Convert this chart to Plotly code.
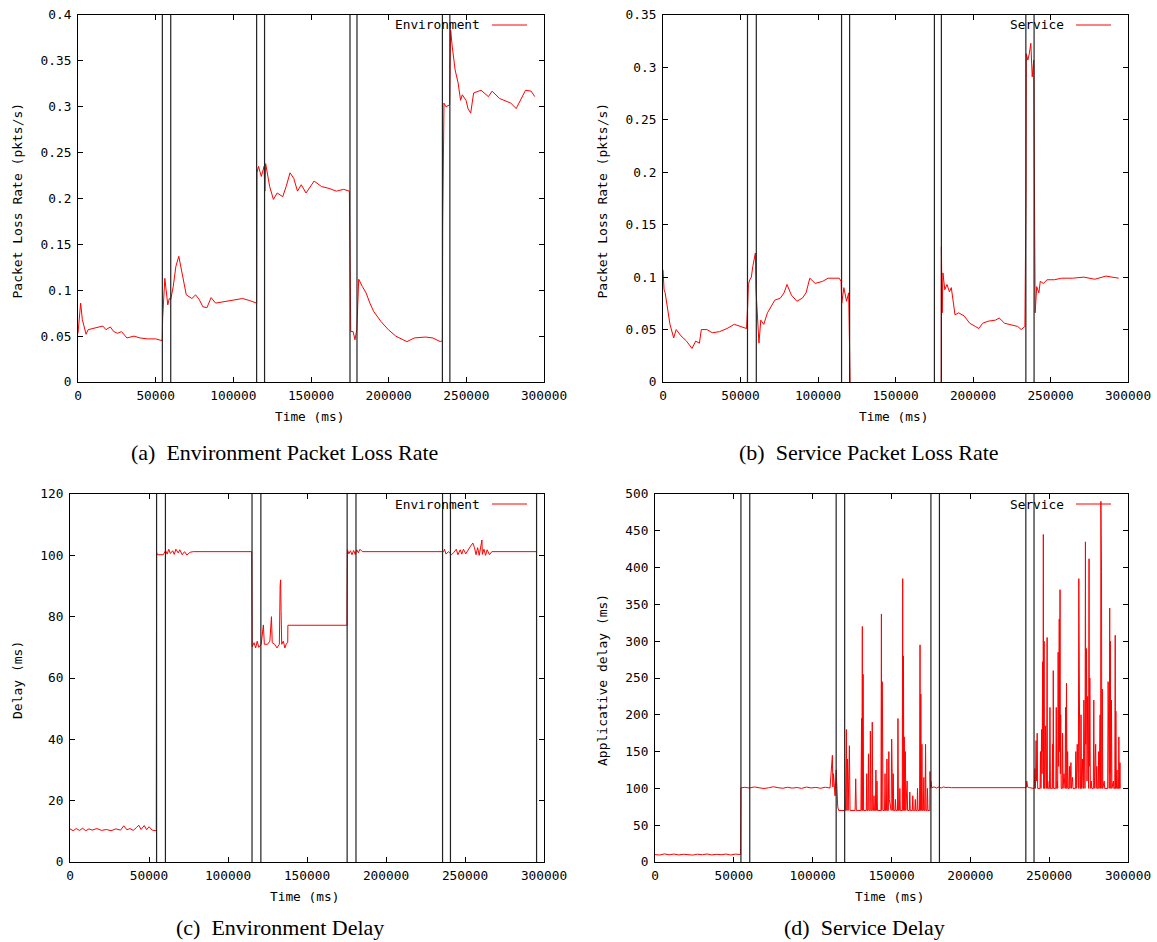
import plotly.graph_objects as go

W, H = 1157, 942

# (a) environment packet loss rate: (time ms, pkts/s)
env_loss = [
    (0, 0.053), (1700, 0.086), (2800, 0.068), (5200, 0.052), (6500, 0.057), (11200, 0.059),
    (16000, 0.061), (18000, 0.057), (20800, 0.060), (23000, 0.055), (25500, 0.053), (28000, 0.055),
    (31500, 0.048), (36000, 0.050), (40000, 0.048), (44600, 0.047), (50000, 0.047), (54200, 0.045),
    (54500, 0.070), (55900, 0.113), (57000, 0.095), (57800, 0.084), (58800, 0.091), (59700, 0.090),
    (61300, 0.104), (63000, 0.126), (64900, 0.137), (67300, 0.115), (69700, 0.095), (73300, 0.091),
    (75700, 0.095), (78000, 0.090), (80400, 0.082), (83000, 0.081), (85700, 0.092), (88600, 0.086),
    (94800, 0.088), (98000, 0.089), (101900, 0.090), (106000, 0.091), (110000, 0.089), (115000, 0.086),
    (115200, 0.228), (116200, 0.235), (118000, 0.224), (119800, 0.235), (120300, 0.208), (120800, 0.238),
    (123400, 0.213), (125800, 0.199), (128200, 0.206), (131800, 0.202), (134000, 0.213), (136500, 0.228),
    (138900, 0.222), (141300, 0.208), (143700, 0.215), (146800, 0.206), (152000, 0.219), (156800, 0.213),
    (161600, 0.211), (166400, 0.208), (171000, 0.210), (174700, 0.208),
    (175100, 0.137), (175600, 0.055), (177100, 0.055), (178300, 0.046), (179500, 0.057), (180000, 0.086),
    (180700, 0.112), (183100, 0.104), (185500, 0.097), (187900, 0.086), (190300, 0.077), (195000, 0.066),
    (199800, 0.057), (204600, 0.050), (209300, 0.046), (211700, 0.044), (216500, 0.048), (223700, 0.049),
    (228500, 0.048), (233200, 0.044), (234600, 0.045),
    (234800, 0.170), (235600, 0.304), (236800, 0.300), (239200, 0.302), (239900, 0.384), (240900, 0.366),
    (242800, 0.340), (244700, 0.326), (246300, 0.307), (247400, 0.313), (249800, 0.307), (251100, 0.298),
    (252800, 0.293), (254700, 0.315), (259500, 0.318), (264200, 0.311), (266600, 0.317), (271400, 0.309),
    (278600, 0.304), (282100, 0.298), (285700, 0.309), (288100, 0.318), (291700, 0.317), (294100, 0.311),
]

# (b) service packet loss rate (no samples between the two drops to zero)
svc_loss = [
    (0, 0.107), (700, 0.088), (1400, 0.085), (2800, 0.069), (4500, 0.055), (6900, 0.042),
    (8500, 0.050), (11600, 0.044), (15200, 0.039), (18700, 0.032), (21100, 0.039), (23500, 0.037),
    (24700, 0.050), (28300, 0.050), (31800, 0.047), (36500, 0.048), (41300, 0.051), (46000, 0.055),
    (50800, 0.053), (53900, 0.051),
    (54600, 0.072), (55100, 0.093), (56000, 0.0975), (57000, 0.100), (57900, 0.110), (59600, 0.123),
    (60000, 0.088), (60700, 0.063), (61900, 0.037), (63100, 0.059), (65000, 0.055), (67400, 0.066),
    (69800, 0.072), (72100, 0.078), (75700, 0.080), (78100, 0.085), (80000, 0.093), (82800, 0.083),
    (86400, 0.077), (89900, 0.080), (92300, 0.085), (94700, 0.099), (98200, 0.094), (103000, 0.096),
    (106500, 0.099), (113700, 0.099), (114900, 0.096),
    (115300, 0.075), (116700, 0.090), (118400, 0.077), (119800, 0.085), (120300, 0.002), (120500, 0.039),
    (120700, 0.0), (150000, None), (179500, 0.0),
    (179600, 0.129), (180100, 0.066), (180600, 0.104), (181800, 0.088), (183200, 0.093), (184800, 0.086),
    (186000, 0.090), (188400, 0.064), (190700, 0.066), (194300, 0.063), (197900, 0.056), (201500, 0.053),
    (203800, 0.051), (206200, 0.056), (209800, 0.058), (214500, 0.059), (216900, 0.061), (220400, 0.056),
    (224000, 0.055), (228800, 0.053), (231100, 0.050), (233500, 0.053),
    (234200, 0.183), (234400, 0.313), (235400, 0.307), (236300, 0.313), (237300, 0.323), (238200, 0.291),
    (239200, 0.307), (239600, 0.196), (240100, 0.066), (241100, 0.091), (242500, 0.085), (243400, 0.096),
    (245400, 0.094), (247800, 0.0975), (252500, 0.0975), (257200, 0.099), (264300, 0.099), (271500, 0.100),
    (278600, 0.098), (285700, 0.101), (294000, 0.099),
]

# (c) environment delay (ms)
env_delay = [
    (0, 10.8), (2000, 10.2), (4000, 10.9), (6000, 10.3), (8000, 11.0), (10000, 10.2), (12000, 10.8),
    (14000, 10.4), (17000, 10.9), (20000, 10.3), (23000, 10.6), (26000, 10.2), (29000, 10.8), (32000, 10.4),
    (34000, 11.8), (36000, 10.5), (38000, 10.9), (40000, 10.3), (42000, 11.2), (43500, 12.0), (45000, 10.6),
    (47000, 11.9), (48500, 10.5), (50000, 11.5), (52000, 10.4), (54600, 10.2),
    (54700, 55.5), (54800, 101.0), (55300, 100.2), (59000, 100.2), (60500, 101.5), (61500, 100.4),
    (62500, 102.0), (63500, 100.6), (65000, 101.5), (66000, 100.3), (67000, 102.0), (68500, 100.8),
    (69500, 101.8), (71000, 100.2), (72500, 101.2), (74000, 100.1), (76000, 101.0), (78000, 101.2),
    (115000, 101.2),
    (115100, 85.5), (115300, 70.2), (116500, 71.5), (117500, 69.8), (118500, 72.0), (119500, 70.0),
    (121000, 71.0), (122400, 77.3), (123000, 71.0), (125000, 71.0), (126500, 72.0), (127500, 80.0),
    (128000, 71.5), (129500, 71.0), (131000, 69.8), (132500, 71.0), (133000, 90.0), (133300, 92.0),
    (133600, 81.7), (134000, 71.0), (135000, 72.0), (136000, 69.8), (137000, 71.3), (137800, 71.5),
    (137900, 77.2), (175300, 77.2),
    (175400, 89.3), (175600, 101.8), (176500, 100.5), (177500, 101.5), (178500, 100.2), (179500, 101.6),
    (180500, 100.3), (181500, 101.8), (182500, 100.8), (183500, 102.0), (185000, 101.2), (236500, 101.2),
    (237000, 102.0), (238000, 100.4), (239500, 101.2), (241500, 100.2), (243000, 101.0), (244500, 102.0),
    (245500, 100.2), (247000, 101.8), (248000, 100.4), (249000, 102.0), (250500, 100.5), (252000, 102.0),
    (253500, 103.0), (255000, 104.0), (256000, 102.5), (257000, 100.2), (258000, 102.5), (259000, 100.0),
    (260200, 103.0), (260700, 105.0), (261000, 100.3), (262000, 102.0), (263000, 100.0), (264000, 101.8),
    (265500, 100.2), (267000, 101.2), (295300, 101.2),
]

# (d) service (applicative) delay (ms)
svc_delay = [
    (0, 10.0), (3000, 9.5), (6000, 11.0), (9000, 9.8), (12000, 10.8), (15000, 9.6), (18000, 10.5),
    (21000, 10.0), (24000, 9.4), (27000, 10.6), (30000, 9.8), (33000, 10.9), (36000, 9.6), (39000, 10.4),
    (42000, 9.9), (45000, 10.8), (48000, 9.5), (51000, 10.7), (54300, 10.2),
    (54400, 57), (54500, 100.7), (57000, 101.5), (60000, 100.5), (63000, 102), (66000, 101), (69000, 99.8),
    (72000, 100.8), (75000, 102.2), (78000, 101), (81000, 100.2), (84000, 101.6), (87000, 100.4),
    (90000, 101.2), (93000, 100), (96000, 101.8), (99000, 100.6), (102000, 101.4), (105000, 100.2),
    (108000, 101.6), (111000, 100.5), (112500, 145), (112800, 102), (113200, 120), (113600, 100),
    (114200, 90), (114900, 125), (115400, 100), (115900, 75), (116500, 70), (116800, 70),
    (120800, 70), (121400, 180), (121700, 70), (122100, 140), (122500, 70), (123300, 158), (123700, 70),
    (126900, 70), (127300, 113), (127700, 70), (130600, 70), (131000, 195), (131200, 70), (131500, 320),
    (131700, 70), (132000, 255), (132300, 70), (134000, 70), (134300, 120), (134600, 70), (135100, 70),
    (135400, 147), (135700, 70), (136300, 70), (136600, 178), (136900, 70), (137500, 70), (137800, 190),
    (138100, 70), (138600, 70), (138900, 90), (139200, 70), (139800, 70), (140100, 125), (140400, 70),
    (140800, 110), (141100, 70), (143300, 70), (143600, 337), (143800, 70), (144100, 245), (144300, 200),
    (144600, 70), (145600, 70), (145900, 120), (146200, 70), (146800, 70), (147100, 140), (147400, 70),
    (148000, 70), (148300, 150), (148600, 85), (149800, 70), (150100, 167), (150400, 70), (150800, 70),
    (151100, 120), (151400, 70), (152200, 70), (152500, 85), (152800, 70), (153800, 70), (154100, 195),
    (154400, 70), (155000, 70), (155300, 100), (155600, 70), (156800, 70), (157100, 385), (157300, 70),
    (157600, 280), (157800, 70), (158100, 170), (158400, 70), (158800, 150), (159100, 70), (159900, 110),
    (160200, 70), (161300, 70), (161600, 95), (161900, 70), (163200, 70), (163500, 90), (163800, 70),
    (164800, 70), (165100, 85), (165400, 70), (166200, 70), (166500, 100), (166800, 70), (167800, 70),
    (168100, 295), (168300, 70), (168600, 228), (168900, 70), (169300, 160), (169600, 70), (170200, 70),
    (170500, 115), (170800, 70), (171300, 70), (171600, 160), (171900, 70), (172500, 70), (172800, 100),
    (173100, 70), (174300, 70),
    (174400, 123), (174700, 100), (175000, 110), (175500, 101), (177000, 102), (178500, 100.5),
    (180000, 101.8), (181500, 100.6), (183000, 102), (184500, 101), (186000, 101.5), (188000, 101),
    (235500, 101), (235800, 110), (236300, 102), (237400, 101),
    (240500, 100), (241000, 127), (241300, 100), (241700, 165), (242000, 110), (242400, 175), (242700, 100),
    (244200, 100), (244500, 150), (244800, 100), (245200, 180), (245500, 120), (245900, 272), (246100, 150),
    (246300, 445), (246500, 100), (246800, 300), (247000, 100), (247400, 100), (247700, 185), (248000, 100),
    (248400, 100), (248700, 305), (248900, 100), (249100, 110), (249400, 100), (250200, 100), (250500, 210),
    (250800, 100), (251900, 100), (252200, 160), (252400, 100), (252600, 260), (252900, 100), (254200, 100),
    (254500, 210), (254800, 100), (255200, 110), (255400, 100), (255700, 285), (256000, 130), (256400, 330),
    (256600, 150), (256900, 370), (257100, 120), (257300, 200), (257600, 100), (258200, 100), (258500, 175),
    (258800, 100), (259400, 120), (259700, 100), (260100, 100), (260400, 210), (260700, 100), (261000, 243),
    (261300, 100), (261700, 150), (262000, 100), (262600, 100), (262900, 130), (263200, 100), (263800, 135),
    (264100, 100), (264800, 115), (265100, 100), (266600, 100), (266900, 150), (267200, 100), (267800, 160),
    (268100, 100), (268500, 100), (268800, 385), (269000, 150), (269200, 310), (269500, 100), (269900, 100),
    (270200, 200), (270500, 100), (271100, 140), (271400, 100), (271700, 100), (272000, 220), (272300, 100),
    (272700, 100), (273000, 435), (273200, 160), (273700, 290), (274000, 110), (274400, 225), (274700, 100),
    (275000, 100), (275300, 412), (275500, 130), (275800, 250), (276100, 100), (276700, 110), (277000, 100),
    (278000, 100), (278300, 220), (278600, 100), (279500, 160), (279800, 100), (280200, 130), (280500, 100),
    (281100, 100), (281400, 150), (281700, 100), (282300, 200), (282600, 100), (282800, 490), (283000, 100),
    (283200, 395), (283400, 100), (283700, 235), (284000, 100), (284900, 110), (285200, 100), (287100, 100),
    (287400, 245), (287700, 100), (288100, 100), (288400, 345), (288600, 120), (288800, 300), (289100, 100),
    (289500, 220), (289800, 100), (290700, 110), (291000, 100), (291600, 100), (291900, 308), (292100, 100),
    (292300, 205), (292600, 100), (293000, 125), (293300, 100), (294000, 100), (294200, 170), (294500, 100),
    (294900, 135), (295100, 100),
]

# handover markers (vertical lines) per panel
marks_a = [54300, 59700, 115000, 120100, 175100, 179600, 234600, 239400]
marks_b = [54500, 60200, 115200, 120400, 175100, 179600, 234100, 239400]
marks_c = [54800, 60400, 115200, 120800, 175400, 181000, 235800, 240800, 295300]
marks_d = [54500, 60100, 114900, 120300, 175000, 180400, 235200, 240400]


def px(x):
    return x / W


def py(y):
    return 1 - y / H


# panel boxes in pixels: left, right, top, bottom; ytx = centre of y title
panels = [
    dict(data=env_loss, marks=marks_a, box=(78, 544, 15, 382), ymax=0.4, dy=0.05, ytx=17,
         ytitle="Packet Loss Rate (pkts/s)", legend="Environment",
         caption="(a)  Environment Packet Loss Rate"),
    dict(data=svc_loss, marks=marks_b, box=(663, 1128, 15, 382), ymax=0.35, dy=0.05, ytx=602,
         ytitle="Packet Loss Rate (pkts/s)", legend="Service",
         caption="(b)  Service Packet Loss Rate"),
    dict(data=env_delay, marks=marks_c, box=(70, 544, 494, 862), ymax=120, dy=20, ytx=17,
         ytitle="Delay (ms)", legend="Environment",
         caption="(c)  Environment Delay"),
    dict(data=svc_delay, marks=marks_d, box=(655, 1128, 494, 862), ymax=500, dy=50, ytx=602,
         ytitle="Applicative delay (ms)", legend="Service",
         caption="(d)  Service Delay"),
]

mono = "DejaVu Sans Mono"
fsize = 12.8
fig = go.Figure()
layout = dict(width=W, height=H, margin=dict(l=0, r=0, t=0, b=0, autoexpand=False),
              paper_bgcolor="white", plot_bgcolor="white", showlegend=False)
annotations, shapes = [], []


def note(x, y, text, size=fsize, family=mono, **kw):
    d = dict(x=px(x), y=py(y), xref="paper", yref="paper", text=text, showarrow=False,
             xanchor="center", yanchor="middle", font=dict(family=family, size=size, color="black"))
    d.update(kw)
    annotations.append(d)


for i, p in enumerate(panels, start=1):
    xa = "x" if i == 1 else f"x{i}"
    ya = "y" if i == 1 else f"y{i}"
    l, r, t, b = p["box"]
    ts = [d[0] for d in p["data"]]
    vs = [d[1] for d in p["data"]]
    fig.add_trace(go.Scatter(x=ts, y=vs, mode="lines", xaxis=xa, yaxis=ya,
                             line=dict(color="#ff0000", width=1)))
    axis_style = dict(showline=True, linecolor="black", linewidth=1, mirror="ticks",
                      ticks="inside", ticklen=5, tickcolor="black", showgrid=False,
                      zeroline=False, automargin=False,
                      tickfont=dict(family=mono, size=fsize, color="black"))
    layout["xaxis" if i == 1 else f"xaxis{i}"] = dict(
        domain=[px(l), px(r)], anchor=ya, range=[0, 300000], dtick=50000,
        tickformat="d", ticklabelstandoff=2, **axis_style)
    layout["yaxis" if i == 1 else f"yaxis{i}"] = dict(
        domain=[py(b), py(t)], anchor=xa, range=[0, p["ymax"]], dtick=p["dy"],
        ticklabelstandoff=3, **axis_style)

    for m in p["marks"]:
        shapes.append(dict(type="line", xref=xa, yref=f"{ya} domain", x0=m, x1=m, y0=0, y1=1,
                           line=dict(color="#222222", width=1.2)))

    # legend: text then red sample line
    note(r - 62, t + 10, p["legend"], xanchor="right")
    shapes.append(dict(type="line", xref="paper", yref="paper", x0=px(r - 52), x1=px(r - 17),
                       y0=py(t + 10), y1=py(t + 10), line=dict(color="#ff0000", width=1)))

    # axis titles
    note(p["ytx"], (t + b) / 2 + 2, p["ytitle"], size=13, textangle=-90)
    note((l + r) / 2 - 2, b + 34, "Time (ms)")
    # caption (bottom row sits against the page edge)
    if b + 86 > H:
        note((l + r) / 2 - 27, H, p["caption"], size=22, family="Liberation Serif",
             yanchor="bottom")
    else:
        note((l + r) / 2 - 27, b + 70, p["caption"], size=22, family="Liberation Serif")

layout["annotations"] = annotations
layout["shapes"] = shapes
fig.update_layout(**layout)
fig.write_html("out.html", config={"displayModeBar": False},
               post_script="document.body.style.margin='0';")
